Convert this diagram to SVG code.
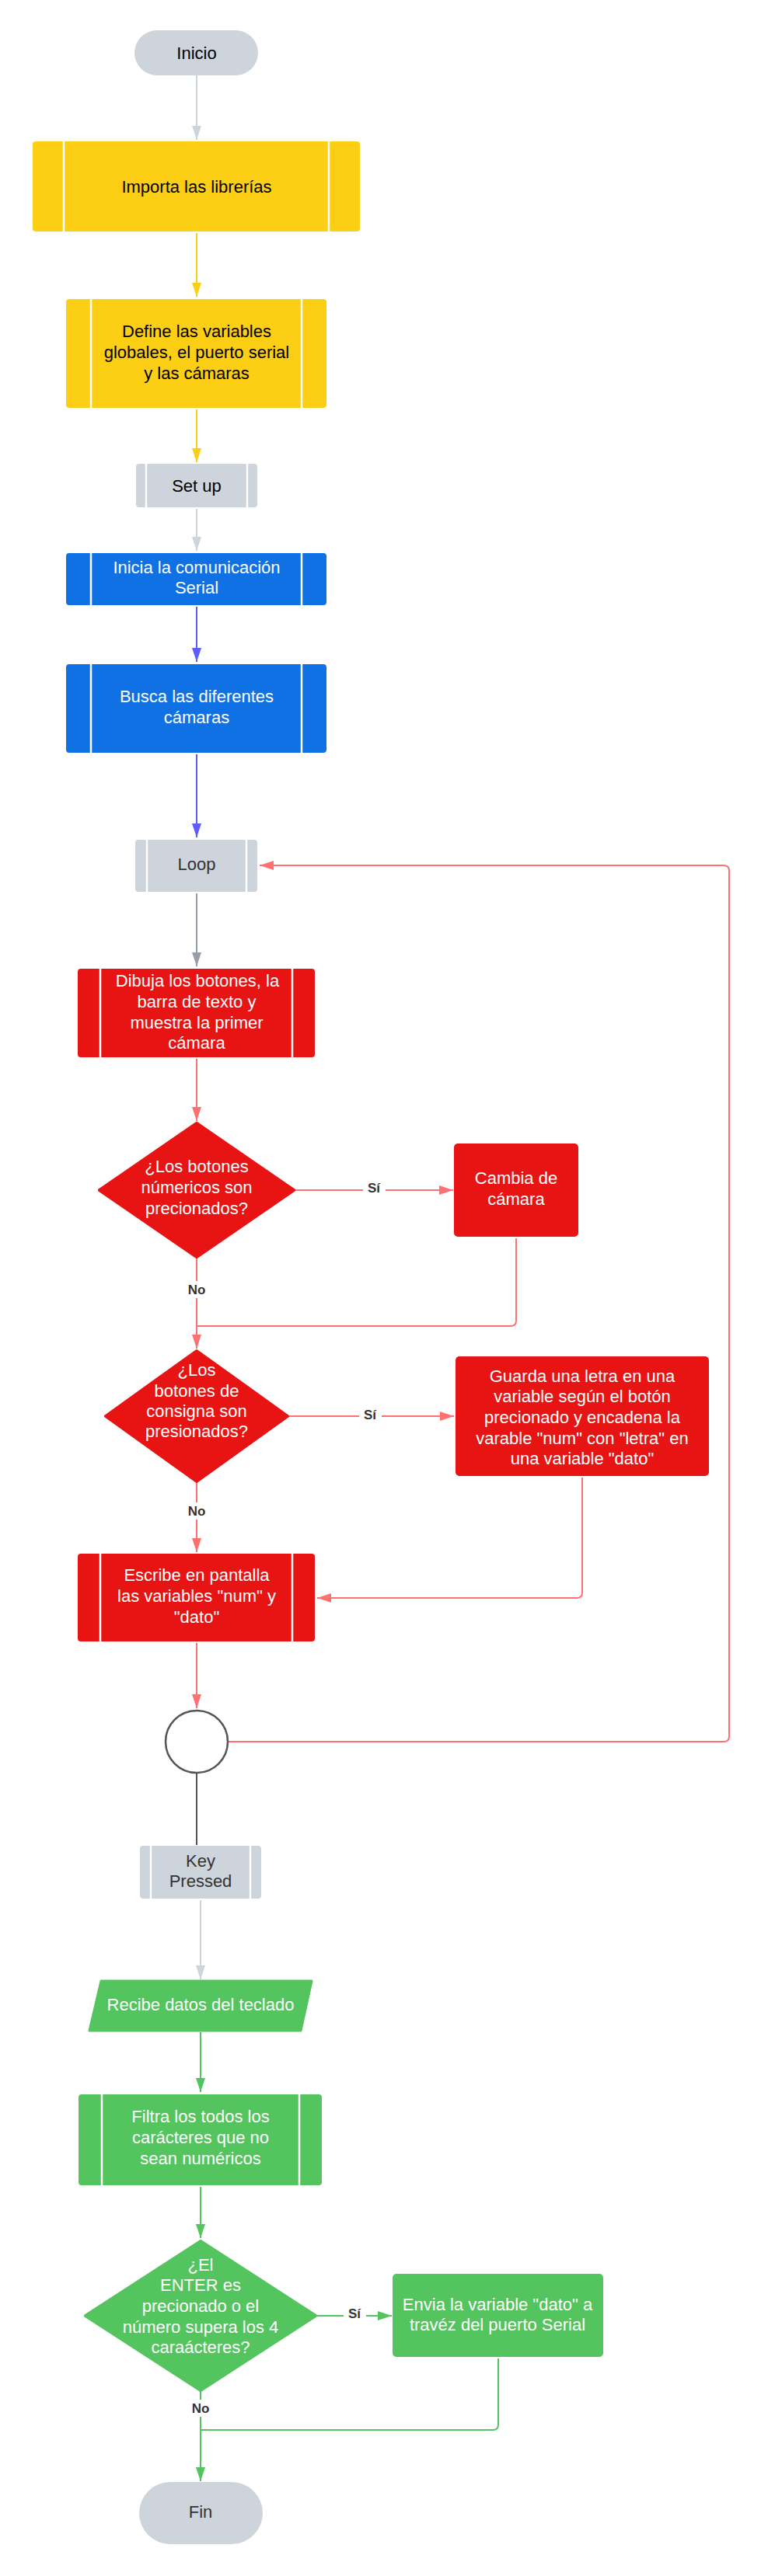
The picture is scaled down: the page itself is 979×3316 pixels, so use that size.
<svg xmlns="http://www.w3.org/2000/svg" width="979" height="3316" viewBox="0 0 979 3316">
<style>
.t{font-family:"Liberation Sans",Arial,sans-serif;font-size:22px;text-anchor:middle}
.k{fill:#000}.d{fill:#333}.w{fill:#fff}
.lbl{font-family:"Liberation Sans",Arial,sans-serif;font-size:17px;font-weight:bold;fill:#333;text-anchor:middle}
.side{stroke:#fff;stroke-width:2.5}
.yel{fill:#FCCE14}.blu{fill:#1071E5}.red{fill:#E81313}.grn{fill:#54C45E}.gry{fill:#CED4DB}
.c{fill:none;stroke-width:2}
</style>
<defs>
<marker id="aLg" viewBox="0 0 18 12" markerWidth="18" markerHeight="12" refX="18" refY="6" orient="auto" markerUnits="userSpaceOnUse"><path d="M0,0 L18,6 L0,12 z" fill="#CED4DB"/></marker>
<marker id="aY" viewBox="0 0 18 12" markerWidth="18" markerHeight="12" refX="18" refY="6" orient="auto" markerUnits="userSpaceOnUse"><path d="M0,0 L18,6 L0,12 z" fill="#FCCE14"/></marker>
<marker id="aB" viewBox="0 0 18 12" markerWidth="18" markerHeight="12" refX="18" refY="6" orient="auto" markerUnits="userSpaceOnUse"><path d="M0,0 L18,6 L0,12 z" fill="#5E5CFF"/></marker>
<marker id="aDg" viewBox="0 0 18 12" markerWidth="18" markerHeight="12" refX="18" refY="6" orient="auto" markerUnits="userSpaceOnUse"><path d="M0,0 L18,6 L0,12 z" fill="#979EA8"/></marker>
<marker id="aR" viewBox="0 0 18 12" markerWidth="18" markerHeight="12" refX="18" refY="6" orient="auto" markerUnits="userSpaceOnUse"><path d="M0,0 L18,6 L0,12 z" fill="#FF7070"/></marker>
<marker id="aG" viewBox="0 0 18 12" markerWidth="18" markerHeight="12" refX="18" refY="6" orient="auto" markerUnits="userSpaceOnUse"><path d="M0,0 L18,6 L0,12 z" fill="#54C45E"/></marker>
</defs>
<rect width="979" height="3316" fill="#fff"/>

<g id="connectors">
<line class="c" stroke="#CED4DB" x1="253" y1="97" x2="253" y2="180" marker-end="url(#aLg)"/>
<line class="c" stroke="#FCCE14" x1="253" y1="300" x2="253" y2="382" marker-end="url(#aY)"/>
<line class="c" stroke="#FCCE14" x1="253" y1="527" x2="253" y2="595" marker-end="url(#aY)"/>
<line class="c" stroke="#CED4DB" x1="253" y1="655" x2="253" y2="709" marker-end="url(#aLg)"/>
<line class="c" stroke="#5E5CFF" x1="253" y1="781" x2="253" y2="852" marker-end="url(#aB)"/>
<line class="c" stroke="#5E5CFF" x1="253" y1="971" x2="253" y2="1078" marker-end="url(#aB)"/>
<line class="c" stroke="#979EA8" x1="253" y1="1150" x2="253" y2="1244" marker-end="url(#aDg)"/>
<line class="c" stroke="#FF7070" x1="253" y1="1363" x2="253" y2="1443" marker-end="url(#aR)"/>
<line class="c" stroke="#FF7070" x1="378" y1="1532" x2="583" y2="1532" marker-end="url(#aR)"/>
<line class="c" stroke="#FF7070" x1="253" y1="1619" x2="253" y2="1736" marker-end="url(#aR)"/>
<path class="c" stroke="#FF7070" d="M664,1594 V1700 Q664,1707 657,1707 H253"/>
<line class="c" stroke="#FF7070" x1="370" y1="1823" x2="584" y2="1823" marker-end="url(#aR)"/>
<line class="c" stroke="#FF7070" x1="253" y1="1908" x2="253" y2="1998" marker-end="url(#aR)"/>
<path class="c" stroke="#FF7070" d="M749,1902 V2050 Q749,2057 742,2057 H408" marker-end="url(#aR)"/>
<line class="c" stroke="#FF7070" x1="253" y1="2115" x2="253" y2="2199" marker-end="url(#aR)"/>
<path class="c" stroke="#FF7070" d="M294,2242 H931 Q938,2242 938,2235 V1121 Q938,1114 931,1114 H334" marker-end="url(#aR)"/>
<line class="c" stroke="#555" stroke-width="1.5" x1="253" y1="2283" x2="253" y2="2375"/>
<line class="c" stroke="#CED4DB" x1="258" y1="2446" x2="258" y2="2548" marker-end="url(#aLg)"/>
<line class="c" stroke="#54C45E" x1="258" y1="2616" x2="258" y2="2693" marker-end="url(#aG)"/>
<line class="c" stroke="#54C45E" x1="258" y1="2815" x2="258" y2="2881" marker-end="url(#aG)"/>
<line class="c" stroke="#54C45E" x1="407" y1="2981" x2="504" y2="2981" marker-end="url(#aG)"/>
<line class="c" stroke="#54C45E" x1="258" y1="3078" x2="258" y2="3194" marker-end="url(#aG)"/>
<path class="c" stroke="#54C45E" d="M641,3036 V3121 Q641,3128 634,3128 H258"/>
<rect x="467" y="1518" width="29" height="22" fill="#fff"/>
<text class="lbl" x="481" y="1535">Sí</text>
<rect x="238" y="1649" width="30" height="22" fill="#fff"/>
<text class="lbl" x="253" y="1666">No</text>
<rect x="462" y="1810" width="29" height="22" fill="#fff"/>
<text class="lbl" x="476" y="1827">Sí</text>
<rect x="238" y="1934" width="30" height="22" fill="#fff"/>
<text class="lbl" x="253" y="1951">No</text>
<rect x="442" y="2967" width="29" height="22" fill="#fff"/>
<text class="lbl" x="456" y="2984">Sí</text>
<rect x="243" y="3089" width="30" height="22" fill="#fff"/>
<text class="lbl" x="258" y="3106">No</text>
</g>

<g id="inicio">
<rect class="gry" x="173" y="39" width="159" height="58" rx="29"/>
<text class="t k" x="253" y="76">Inicio</text>
</g>

<g id="importa">
<rect class="yel" x="42" y="182" width="421" height="116" rx="4"/>
<line class="side" x1="82" y1="182" x2="82" y2="298"/><line class="side" x1="423" y1="182" x2="423" y2="298"/>
<text class="t k" x="253" y="248">Importa las librerías</text>
</g>

<g id="define">
<rect class="yel" x="85" y="385" width="335" height="140" rx="4"/>
<line class="side" x1="117" y1="385" x2="117" y2="525"/><line class="side" x1="388" y1="385" x2="388" y2="525"/>
<text class="t k" x="253" y="434">Define las variables</text>
<text class="t k" x="253" y="461">globales, el puerto serial</text>
<text class="t k" x="253" y="488">y las cámaras</text>
</g>

<g id="setup">
<rect class="gry" x="175" y="597" width="156" height="56" rx="4"/>
<line class="side" x1="188" y1="597" x2="188" y2="653"/><line class="side" x1="318" y1="597" x2="318" y2="653"/>
<text class="t k" x="253" y="633">Set up</text>
</g>

<g id="inicia">
<rect class="blu" x="85" y="712" width="335" height="67" rx="4"/>
<line class="side" x1="117" y1="712" x2="117" y2="779"/><line class="side" x1="388" y1="712" x2="388" y2="779"/>
<text class="t w" x="253" y="738">Inicia la comunicación</text>
<text class="t w" x="253" y="764">Serial</text>
</g>

<g id="busca">
<rect class="blu" x="85" y="855" width="335" height="114" rx="4"/>
<line class="side" x1="117" y1="855" x2="117" y2="969"/><line class="side" x1="388" y1="855" x2="388" y2="969"/>
<text class="t w" x="253" y="904">Busca las diferentes</text>
<text class="t w" x="253" y="931">cámaras</text>
</g>

<g id="loop">
<rect class="gry" x="174" y="1081" width="157" height="67" rx="4"/>
<line class="side" x1="189" y1="1081" x2="189" y2="1148"/><line class="side" x1="317" y1="1081" x2="317" y2="1148"/>
<text class="t d" x="253" y="1120">Loop</text>
</g>

<g id="dibuja">
<rect class="red" x="100" y="1247" width="305" height="114" rx="4"/>
<line class="side" x1="129" y1="1247" x2="129" y2="1361"/><line class="side" x1="376" y1="1247" x2="376" y2="1361"/>
<text class="t w" x="254" y="1270">Dibuja los botones, la</text>
<text class="t w" x="253" y="1297">barra de texto y</text>
<text class="t w" x="253" y="1324">muestra la primer</text>
<text class="t w" x="253" y="1350">cámara</text>
</g>

<g id="decision1">
<polygon points="253,1446 378,1532 253,1618 128,1532" fill="#E81313" stroke="#E81313" stroke-width="4" stroke-linejoin="round"/>
<text class="t w" x="253" y="1509">¿Los botones</text>
<text class="t w" x="253" y="1536">númericos son</text>
<text class="t w" x="253" y="1563">precionados?</text>
</g>

<g id="cambia">
<rect class="red" x="584" y="1472" width="160" height="120" rx="5"/>
<text class="t w" x="664" y="1524">Cambia de</text>
<text class="t w" x="664" y="1551">cámara</text>
</g>

<g id="decision2">
<polygon points="253,1739 370,1823 253,1907 136,1823" fill="#E81313" stroke="#E81313" stroke-width="4" stroke-linejoin="round"/>
<text class="t w" x="253" y="1771">¿Los</text>
<text class="t w" x="253" y="1798">botones de</text>
<text class="t w" x="253" y="1824">consigna son</text>
<text class="t w" x="253" y="1850">presionados?</text>
</g>

<g id="guarda">
<rect class="red" x="586" y="1746" width="326" height="154" rx="5"/>
<text class="t w" x="749" y="1779">Guarda una letra en una</text>
<text class="t w" x="749" y="1805">variable según el botón</text>
<text class="t w" x="749" y="1832">precionado y encadena la</text>
<text class="t w" x="749" y="1859">varable "num" con "letra" en</text>
<text class="t w" x="749" y="1885">una variable "dato"</text>
</g>

<g id="escribe">
<rect class="red" x="100" y="2000" width="305" height="113" rx="4"/>
<line class="side" x1="129" y1="2000" x2="129" y2="2113"/><line class="side" x1="376" y1="2000" x2="376" y2="2113"/>
<text class="t w" x="253" y="2035">Escribe en pantalla</text>
<text class="t w" x="253" y="2062">las variables "num" y</text>
<text class="t w" x="253" y="2089">"dato"</text>
</g>

<g id="conector">
<circle cx="253" cy="2242" r="40" fill="#fff" stroke="#555" stroke-width="2.5"/>
</g>

<g id="keypressed">
<rect class="gry" x="180" y="2376" width="156" height="68" rx="4"/>
<line class="side" x1="194" y1="2376" x2="194" y2="2444"/><line class="side" x1="322" y1="2376" x2="322" y2="2444"/>
<text class="t d" x="258" y="2403">Key</text>
<text class="t d" x="258" y="2429">Pressed</text>
</g>

<g id="recibe">
<polygon points="130,2550 401,2550 387,2614 115,2614" fill="#54C45E" stroke="#54C45E" stroke-width="3" stroke-linejoin="round"/>
<text class="t w" x="258" y="2588">Recibe datos del teclado</text>
</g>

<g id="filtra">
<rect class="grn" x="101" y="2696" width="313" height="117" rx="4"/>
<line class="side" x1="131" y1="2696" x2="131" y2="2813"/><line class="side" x1="385" y1="2696" x2="385" y2="2813"/>
<text class="t w" x="258" y="2732">Filtra los todos los</text>
<text class="t w" x="258" y="2759">carácteres que no</text>
<text class="t w" x="258" y="2786">sean numéricos</text>
</g>

<g id="decision3">
<polygon points="258,2885 406,2981 258,3077 110,2981" fill="#54C45E" stroke="#54C45E" stroke-width="4" stroke-linejoin="round"/>
<text class="t w" x="258" y="2923">¿El</text>
<text class="t w" x="258" y="2949">ENTER es</text>
<text class="t w" x="258" y="2976">precionado o el</text>
<text class="t w" x="258" y="3003">número supera los 4</text>
<text class="t w" x="258" y="3029">caraácteres?</text>
</g>

<g id="envia">
<rect class="grn" x="505" y="2927" width="271" height="107" rx="5"/>
<text class="t w" x="640" y="2974">Envia la variable "dato" a</text>
<text class="t w" x="640" y="3000">travéz del puerto Serial</text>
</g>

<g id="fin">
<rect class="gry" x="179" y="3195" width="159" height="80" rx="40"/>
<text class="t d" x="258" y="3241">Fin</text>
</g>
</svg>
